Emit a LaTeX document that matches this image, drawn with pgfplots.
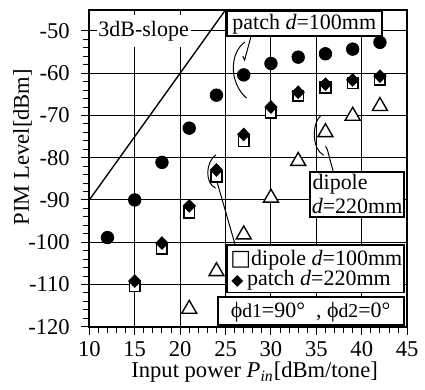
\documentclass[border=0pt]{standalone}
\usepackage{pgfplots}
\pgfplotsset{compat=1.18}
\usepackage{fontspec}
\setmainfont{Liberation Serif}
\newfontfamily\symfont{DejaVu Sans}
\newcommand{\boxfont}{\fontsize{11.2}{12.5}\selectfont}
\begin{document}
\begin{tikzpicture}
\begin{axis}[
  scale only axis, width=162pt, height=161.5pt,
  xmin=10, xmax=45, ymin=-120, ymax=-45,
  xtick={10,15,...,45}, ytick={-120,-110,...,-50},
  minor x tick num=4, minor y tick num=4,
  tick align=outside, major tick length=4pt, minor tick length=3pt,
  xtick pos=left, ytick pos=left,
  grid=major, major grid style={black, line width=0.5pt},
  axis line style={line width=0.9pt},
  every tick/.style={black, line width=0.5pt},
  /pgf/number format/assume math mode=true,
  tick label style={font=\fontsize{11.5}{13}\selectfont},
  y tick label style={xshift=-2.5pt},
  label style={font=\fontsize{11.5}{13}\selectfont},
  xlabel={Input power \textit{P\textsubscript{in}}[dBm/tone]},
  ylabel={PIM Level[dBm]},
  xlabel style={at={(axis description cs:0.52,-0.161)}, anchor=base},
  ylabel style={at={(axis description cs:-0.21,0.567)}, anchor=center},
  clip=false,
]
% 3dB slope
\addplot[black, line width=0.7pt] coordinates {(10,-90) (25,-45)};
% patch d=100mm (circles)
\addplot[only marks, mark=*, mark size=3.2pt, black] coordinates {
 (12,-98.9) (15,-90.0) (18,-81.1) (21,-73.0) (24,-65.2) (27,-60.4)
 (30,-57.7) (33,-56.2) (36,-55.4) (39,-54.3) (42,-52.7)};
% dipole d=100mm (squares)
\addplot[only marks, mark=square*, mark size=2.7pt,
  mark options={fill=white, draw=black, line width=0.8pt}] coordinates {
 (15,-110.4) (18,-101.6) (21,-93.0) (24,-84.5) (27,-76.1)
 (30,-69.4) (33,-65.3) (36,-63.4) (39,-62.4) (42,-61.5)};
% patch d=220mm (diamonds)
\addplot[only marks, mark=diamond*, mark size=3.2pt,
  mark options={fill=black, draw=black, xscale=1.3}] coordinates {
 (15,-109.2) (18,-100.2) (21,-91.4) (24,-82.9) (27,-74.5)
 (30,-68.0) (33,-64.5) (36,-62.6) (39,-61.6) (42,-60.7)};
% dipole d=220mm (triangles)
\addplot[only marks, mark=triangle*, mark size=4.4pt,
  mark options={fill=white, draw=black, line width=0.7pt}] coordinates {
 (21,-115.8) (24,-106.9) (27,-98.2) (30,-89.5) (33,-80.8)
 (36,-74.0) (39,-70.1) (42,-67.8)};

% 3dB-slope label
\node[anchor=base west, fill=white, inner xsep=1pt, inner ysep=3pt, font=\boxfont]
  at (axis cs:10.75,-51.3) {3dB-slope};

% callouts
\draw[line width=0.5pt] (axis cs:27.15,-52.6) .. controls (axis cs:25.5,-55) and (axis cs:25.3,-62) .. (axis cs:27.3,-65.9);
\draw[line width=0.5pt] (axis cs:26.9,-56.0) -- (axis cs:27.1,-56.9) -- (axis cs:27.8,-51.3);
\draw[line width=0.5pt] (axis cs:23.95,-79.3) .. controls (axis cs:22.8,-81) and (axis cs:22.7,-86) .. (axis cs:23.9,-87.2);
\draw[line width=0.5pt] (axis cs:24.1,-86.0) -- (axis cs:26.07,-100.7);
\draw[line width=0.5pt] (axis cs:35.45,-70.1) .. controls (axis cs:34.5,-72) and (axis cs:34.5,-78) .. (axis cs:35.8,-79.4);
\draw[line width=0.5pt] (axis cs:36.0,-77.3) -- (axis cs:36.2,-78.0) -- (axis cs:36.86,-83.3);

% patch d=100mm box
\draw[line width=1pt, fill=white] (axis cs:25.18,-45.35) rectangle (axis cs:42.25,-51.3);
\node[anchor=base west, inner sep=0pt, font=\boxfont] at (axis cs:25.72,-49.77) {patch \textit{d}=100mm};

% dipole d=220mm box
\draw[line width=1pt, fill=white] (axis cs:34.3,-83.3) rectangle (axis cs:44.6,-94.1);
\node[anchor=base west, inner sep=0pt, font=\boxfont] at (axis cs:34.55,-87.5) {dipole};
\node[anchor=base west, inner sep=0pt, font=\boxfont] at (axis cs:34.45,-93.3) {\textit{d}=220mm};

% legend box
\draw[line width=1pt, fill=white] (axis cs:25.18,-100.7) rectangle (axis cs:44.6,-111.9);
\node[anchor=base west, inner sep=0pt, font=\boxfont] at (axis cs:25.5,-105.4) {{\symfont □}dipole \textit{d}=100mm};
\node[anchor=base west, inner sep=0pt, font=\boxfont] at (axis cs:25.6,-110.25) {{\symfont\fontsize{8}{9}\selectfont ◆}\,patch \textit{d}=220mm};

% phi box
\draw[line width=1pt, fill=white] (axis cs:24.17,-113.0) rectangle (axis cs:44.65,-119.7);
\node[anchor=base west, inner sep=0pt, font=\boxfont] at (axis cs:25.53,-117.9)
  {ϕ{\fontsize{10}{12}\selectfont d1}=90\textdegree\ \ , ϕ{\fontsize{10}{12}\selectfont d2}=0\textdegree};

% picture extent (matches reference margins)
\path (axis description cs:-0.281,-0.189) rectangle (axis description cs:1.031,1.031);
\end{axis}
\end{tikzpicture}
\end{document}
